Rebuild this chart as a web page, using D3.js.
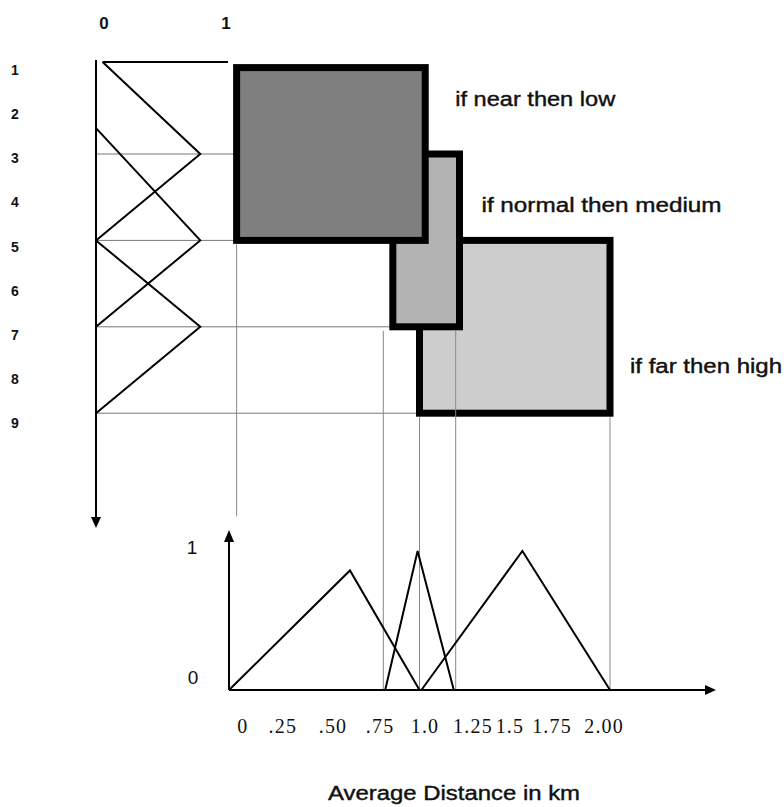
<!DOCTYPE html>
<html>
<head>
<script src="https://d3js.org/d3.v7.min.js"></script>
<style>
  body { margin: 0; background: #fff; }
  svg text { font-family: "Liberation Sans", Arial, sans-serif; fill: #111; }
  .tick-serif { font-family: "Liberation Serif", "Times New Roman", serif !important; }
</style>
</head>
<body>
<svg id="chart"></svg>
<script>
// output levels (left scale) and membership of each output set: [membership, level]
var levels = [1, 2, 3, 4, 5, 6, 7, 8, 9];
var lowTop = [[0.05, 0.87], [1, 0.87]];
var lowSet = [[0.05, 0.87], [0.79, 3], [0, 5]];
var mediumSet = [[0, 2.4], [0.79, 5], [0, 7]];
var highSet = [[0, 5], [0.79, 7], [0, 9]];

// input sets on distance axis: [km, membership]
var nearSet = [[0, 0], [0.635, 0.86], [1.0, 0]];
var normalSet = [[0.82, 0], [0.99, 1], [1.18, 0]];
var farSet = [[1.01, 0], [1.54, 1], [2.0, 0]];

// rule boxes: distance range x output level range
var ruleNames = ["if near then low", "if normal then medium", "if far then high"];
var ruleDist = [[0.04, 1.03], [0.86, 1.21], [1.0, 2.0]];
var ruleLevels = [[1, 5], [3, 7], [5, 9]];

// tick labels under the distance axis and where they sit (km)
var distTickLabels = ["0", ".25", ".50", ".75", "1.0", "1.25", "1.5", "1.75", "2.00"];
var distTickPos = [0.073, 0.283, 0.546, 0.793, 1.029, 1.281, 1.475, 1.696, 1.969];

// guide lines
var hGuides = [[3, 0.04], [5, 0.04], [7, 0.86], [9, 1.0]];      // [level, km reached]
var vGuides = [[0.04, 5, 1.25], [0.81, 7, 0], [1.0, 9, 0], [1.19, 7, 0], [2.0, 9, 0]]; // [km, from level, to membership]

var width = 784, height = 807;
var svg = d3.select("#chart").attr("width", width).attr("height", height);

var xM = d3.scaleLinear().domain([0, 1]).range([96, 228]);      // membership (top)
var yL = d3.scaleLinear().domain([1, 9]).range([67.6, 413.2]);   // output level
var yLab = d3.scaleLinear().domain([1, 9]).range([70, 423]);     // level label positions
var xD = d3.scaleLinear().domain([0, 2]).range([229, 610]);      // distance km
var yD = d3.scaleLinear().domain([0, 1]).range([690, 551]);      // membership (bottom)

var fills = ["#7f7f7f", "#b3b3b3", "#cdcdcd"];

// guides
svg.selectAll(".hg").data(hGuides).enter().append("line")
    .attr("x1", xM(0)).attr("x2", function (d) { return xD(d[1]); })
    .attr("y1", function (d) { return yL(d[0]); }).attr("y2", function (d) { return yL(d[0]); })
    .attr("stroke", "#777").attr("stroke-width", 1);

// rule boxes, far first so near sits on top
var order = [2, 1, 0];
svg.selectAll(".rule").data(order).enter().append("rect")
    .attr("x", function (i) { return xD(ruleDist[i][0]); })
    .attr("y", function (i) { return yL(ruleLevels[i][0]); })
    .attr("width", function (i) { return xD(ruleDist[i][1]) - xD(ruleDist[i][0]); })
    .attr("height", function (i) { return yL(ruleLevels[i][1]) - yL(ruleLevels[i][0]); })
    .attr("fill", function (i) { return fills[i]; })
    .attr("stroke", "#000").attr("stroke-width", 7);

svg.selectAll(".vg").data(vGuides).enter().append("line")
    .attr("x1", function (d) { return xD(d[0]); }).attr("x2", function (d) { return xD(d[0]); })
    .attr("y1", function (d) { return yL(d[1]) + 4; }).attr("y2", function (d) { return yD(d[2]); })
    .attr("stroke", "#888").attr("stroke-width", 1);

// rule labels
var labelGap = [30, 22, 20], labelLevel = [1.72, 4.18, 7.9], labelLen = [160, 240, 152];
svg.selectAll(".rl").data([0, 1, 2]).enter().append("text")
    .attr("x", function (i) { return xD(ruleDist[i][1]) + labelGap[i]; })
    .attr("y", function (i) { return yL(labelLevel[i]); })
    .attr("dominant-baseline", "central")
    .attr("font-size", 20)
    .attr("stroke", "#111").attr("stroke-width", 0.4)
    .attr("textLength", function (i) { return labelLen[i]; })
    .attr("lengthAdjust", "spacingAndGlyphs")
    .text(function (i) { return ruleNames[i]; });

// top membership chart
var lineL = d3.line().x(function (d) { return xM(d[0]); }).y(function (d) { return yL(d[1]); });
[lowTop, lowSet, mediumSet, highSet].forEach(function (s) {
    svg.append("path").attr("d", lineL(s)).attr("fill", "none")
        .attr("stroke", "#000").attr("stroke-width", 2);
});
svg.append("line").attr("x1", xM(0)).attr("x2", xM(0)).attr("y1", 60).attr("y2", 518)
    .attr("stroke", "#000").attr("stroke-width", 2);
svg.append("path").attr("d", "M" + (xM(0) - 5) + ",517L" + (xM(0) + 5) + ",517L" + xM(0) + ",528Z").attr("fill", "#000");

svg.selectAll(".lv").data(levels).enter().append("text")
    .attr("x", 15).attr("y", function (d) { return yLab(d); })
    .attr("text-anchor", "middle").attr("dominant-baseline", "central")
    .attr("font-size", 14).attr("font-weight", "bold")
    .text(function (d) { return d; });
svg.append("text").attr("x", xM(0) + 8).attr("y", 23).attr("text-anchor", "middle")
    .attr("dominant-baseline", "central").attr("font-size", 17).attr("font-weight", "bold").text("0");
svg.append("text").attr("x", xM(1) - 2).attr("y", 23).attr("text-anchor", "middle")
    .attr("dominant-baseline", "central").attr("font-size", 17).attr("font-weight", "bold").text("1");

// bottom membership chart
var lineD = d3.line().x(function (d) { return xD(d[0]); }).y(function (d) { return yD(d[1]); });
[nearSet, normalSet, farSet].forEach(function (s) {
    svg.append("path").attr("d", lineD(s)).attr("fill", "none")
        .attr("stroke", "#000").attr("stroke-width", 2);
});
svg.append("line").attr("x1", xD(0)).attr("x2", xD(0)).attr("y1", yD(0)).attr("y2", 540)
    .attr("stroke", "#000").attr("stroke-width", 2);
svg.append("path").attr("d", "M" + (xD(0) - 5) + ",542L" + (xD(0) + 5) + ",542L" + xD(0) + ",530Z").attr("fill", "#000");
svg.append("line").attr("x1", xD(0)).attr("x2", 706).attr("y1", yD(0)).attr("y2", yD(0))
    .attr("stroke", "#000").attr("stroke-width", 2);
svg.append("path").attr("d", "M705," + (yD(0) - 5) + "L705," + (yD(0) + 5) + "L716," + yD(0) + "Z").attr("fill", "#000");

svg.append("text").attr("x", 192).attr("y", 547).attr("text-anchor", "middle")
    .attr("dominant-baseline", "central").attr("font-size", 19).text("1");
svg.append("text").attr("x", 193).attr("y", 677).attr("text-anchor", "middle")
    .attr("dominant-baseline", "central").attr("font-size", 19).text("0");

svg.selectAll(".dt").data(distTickLabels).enter().append("text")
    .attr("class", "tick-serif")
    .attr("x", function (d, i) { return xD(distTickPos[i]); })
    .attr("y", 733).attr("text-anchor", "middle")
    .attr("font-size", 20).attr("letter-spacing", 1.2)
    .text(function (d) { return d; });

svg.append("text").attr("x", 328).attr("y", 800)
    .attr("font-size", 20).attr("stroke", "#111").attr("stroke-width", 0.4)
    .attr("textLength", 252).attr("lengthAdjust", "spacingAndGlyphs")
    .text("Average Distance in km");
</script>
</body>
</html>
